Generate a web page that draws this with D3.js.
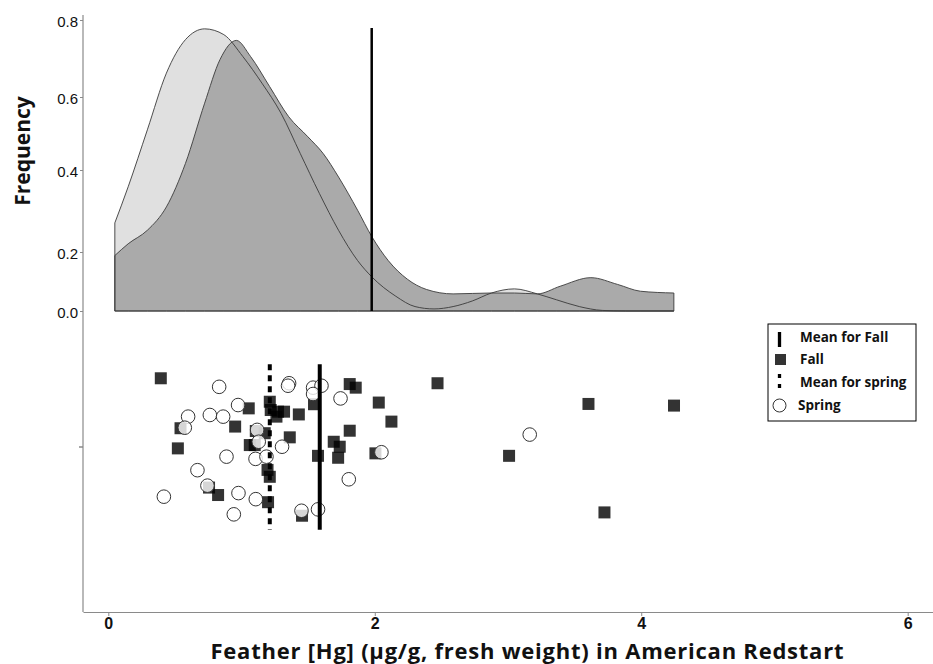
<!DOCTYPE html>
<html>
<head>
<meta charset="utf-8">
<script src="https://cdn.jsdelivr.net/npm/d3@7"></script>
<style>
  body { margin: 0; background: #fff; }
  svg { display: block; }
  .tick text { font-family: "Liberation Sans", Arial, sans-serif; }
</style>
</head>
<body>
<div id="area"></div>
<script>
var width = 933,
    height = 664;

// density curves: [Hg, frequency]
var springDensity = [[0.049,0.271],[0.149,0.359],[0.293,0.510],[0.436,0.662],[0.579,0.749],[0.723,0.777],
  [0.867,0.762],[1.010,0.705],[1.153,0.636],[1.297,0.555],[1.441,0.445],[1.584,0.343],[1.728,0.253],
  [1.871,0.171],[1.977,0.116],[2.158,0.050],[2.302,0.015],[2.445,0.007],[2.588,0.015],[2.732,0.034],
  [2.876,0.061],[3.048,0.075],[3.220,0.058],[3.364,0.038],[3.535,0.015],[3.708,0.002],[3.880,0.0],[4.245,0.0]];

var fallDensity = [[0.049,0.188],[0.149,0.220],[0.293,0.253],[0.436,0.310],[0.579,0.418],[0.723,0.583],
  [0.838,0.697],[0.961,0.747],[1.068,0.705],[1.211,0.627],[1.354,0.546],[1.498,0.491],[1.613,0.445],
  [1.728,0.383],[1.871,0.302],[1.977,0.238],[2.101,0.171],[2.244,0.108],[2.388,0.073],[2.588,0.058],
  [2.876,0.061],[3.048,0.061],[3.220,0.058],[3.392,0.084],[3.622,0.113],[3.823,0.090],[3.995,0.067],[4.245,0.061]];

var densityLine = 1.977;
var freqTicks = [0, 0.2, 0.4, 0.6, 0.8];
var hgTicks = [0, 2, 4, 6];

// individual birds, Hg and vertical jitter
var fallHg = [0.394,1.054,0.952,0.542,0.522,0.824,0.756,1.107,1.062,1.099,1.212,1.219,1.274,1.319,1.262,1.430,
  1.544,1.812,1.857,2.030,2.125,1.812,1.692,1.737,1.725,1.574,2.005,1.362,1.174,1.195,1.212,1.199,1.454,
  2.471,3.604,4.246,3.008,3.724];
var fallJitter = [1.249,1.140,1.074,1.068,0.995,0.826,0.853,1.058,1.007,1.007,1.164,1.134,1.128,1.128,1.110,1.118,
  1.155,1.228,1.215,1.161,1.092,1.059,1.019,1.001,0.961,0.968,0.977,1.035,1.050,0.917,0.892,0.800,0.751,
  1.231,1.156,1.150,0.968,0.763];

var springHg = [0.832,0.974,0.599,0.762,0.862,0.574,0.887,0.669,0.744,0.417,0.977,0.942,1.117,1.129,1.105,1.107,
  1.357,1.349,1.537,1.600,1.537,1.743,1.304,1.187,1.450,1.574,1.805,2.050,3.163];
var springJitter = [1.218,1.152,1.110,1.116,1.110,1.070,0.965,0.916,0.860,0.820,0.833,0.756,1.062,1.019,0.957,0.811,
  1.231,1.222,1.215,1.222,1.192,1.176,1.001,0.965,0.769,0.774,0.883,0.981,1.045];

var fallMean = 1.587,
    springMean = 1.212;

var legendLabels = ['Mean for Fall', 'Fall', 'Mean for spring', 'Spring'];

var axisColor = '#8a8a8a',
    springFill = '#e0e0e0',
    fallFill = '#aaaaaa',
    outline = '#3a3a3a',
    boldFont = '"Open Sans", sans-serif';

var svg = d3.select('#area').append('svg')
    .attr('width', width)
    .attr('height', height);

var x = d3.scaleLinear().domain([-0.19, 6.19]).range([83, 933]);
var yDens = d3.scaleLinear().domain(freqTicks).range([311, 252, 170, 97, 20]);
var yJit = d3.scaleLinear().domain([0.4, 1.6]).range([612.6, 281.4]);

// top panel: density
var area = d3.area()
    .x(function(d) { return x(d[0]); })
    .y0(yDens(0))
    .y1(function(d) { return yDens(d[1]); })
    .curve(d3.curveMonotoneX);

svg.append('path').datum(springDensity).attr('d', area).attr('fill', springFill);
svg.append('path').datum(fallDensity).attr('d', area).attr('fill', fallFill);
[springDensity, fallDensity].forEach(function(dd) {
  svg.append('path').datum(dd).attr('d', area)
      .attr('fill', 'none').attr('stroke', outline).attr('stroke-width', 0.9);
});

svg.append('line')
    .attr('x1', x(densityLine)).attr('x2', x(densityLine))
    .attr('y1', 28).attr('y2', yDens(0))
    .attr('stroke', '#000').attr('stroke-width', 2.5);

// axes
svg.append('line').attr('x1', 83).attr('x2', 83).attr('y1', 15).attr('y2', 612)
    .attr('stroke', axisColor).attr('stroke-width', 1.2);

var yAxis = svg.append('g')
    .attr('transform', 'translate(83,0)')
    .call(d3.axisLeft(yDens).tickValues(freqTicks).tickFormat(d3.format('.1f')).tickSize(3).tickPadding(2));
yAxis.select('.domain').remove();
yAxis.selectAll('.tick line').attr('stroke', axisColor);
yAxis.selectAll('.tick text').attr('font-size', 15).attr('fill', '#111').attr('dy', '0.45em');

var xAxis = svg.append('g')
    .attr('transform', 'translate(0,612)')
    .call(d3.axisBottom(x).tickValues(hgTicks).tickFormat(d3.format('d')).tickSize(4).tickSizeOuter(0).tickPadding(2));
xAxis.select('.domain').attr('stroke', axisColor).attr('stroke-width', 1.2);
xAxis.selectAll('.tick line').attr('stroke', axisColor);
xAxis.selectAll('.tick text')
    .attr('font-family', boldFont)
    .attr('font-weight', 'bold')
    .attr('font-size', 16)
    .attr('fill', '#111');

// small tick for the scatter band
svg.append('line').attr('x1', 79).attr('x2', 83).attr('y1', yJit(1)).attr('y2', yJit(1))
    .attr('stroke', axisColor).attr('stroke-width', 1.5);

svg.append('text')
    .attr('transform', 'translate(30,151) rotate(-90)')
    .attr('text-anchor', 'middle')
    .attr('font-family', boldFont)
    .attr('font-weight', 'bold')
    .attr('font-size', 21)
    .attr('fill', '#111')
    .text('Frequency');

svg.append('text')
    .attr('x', 527).attr('y', 659)
    .attr('text-anchor', 'middle')
    .attr('font-family', boldFont)
    .attr('font-weight', 'bold')
    .attr('font-size', 22)
    .attr('textLength', 633)
    .attr('lengthAdjust', 'spacing')
    .attr('fill', '#111')
    .text('Feather [Hg] (\u03bcg/g, fresh weight) in American Redstart');

// bottom panel: points
var sq = 12;
svg.append('g').selectAll('rect')
    .data(fallHg)
    .enter().append('rect')
    .attr('x', function(d) { return x(d) - sq / 2; })
    .attr('y', function(d, i) { return yJit(fallJitter[i]) - sq / 2; })
    .attr('width', sq).attr('height', sq)
    .attr('fill', '#000').attr('fill-opacity', 0.8);

svg.append('g').selectAll('circle')
    .data(springHg)
    .enter().append('circle')
    .attr('cx', function(d) { return x(d); })
    .attr('cy', function(d, i) { return yJit(springJitter[i]); })
    .attr('r', 6.8)
    .attr('fill', '#fff').attr('fill-opacity', 0.8)
    .attr('stroke', '#333').attr('stroke-width', 1);

svg.append('line')
    .attr('x1', x(springMean)).attr('x2', x(springMean))
    .attr('y1', yJit(1.3)).attr('y2', yJit(0.7))
    .attr('stroke', '#000').attr('stroke-width', 4).attr('stroke-dasharray', '6,5');
svg.append('line')
    .attr('x1', x(fallMean)).attr('x2', x(fallMean))
    .attr('y1', yJit(1.3)).attr('y2', yJit(0.7))
    .attr('stroke', '#000').attr('stroke-width', 4);

// legend
var legend = svg.append('g').attr('transform', 'translate(768,324)');
legend.append('rect').attr('width', 148).attr('height', 97)
    .attr('fill', '#fff').attr('stroke', '#000').attr('stroke-width', 1);

legend.append('line').attr('x1', 11.5).attr('x2', 11.5).attr('y1', 8).attr('y2', 23)
    .attr('stroke', '#000').attr('stroke-width', 3.3);
legend.append('rect').attr('x', 7).attr('y', 30).attr('width', 11).attr('height', 11)
    .attr('fill', '#000').attr('fill-opacity', 0.8);
legend.append('line').attr('x1', 11.5).attr('x2', 11.5).attr('y1', 50).attr('y2', 67)
    .attr('stroke', '#000').attr('stroke-width', 3.3).attr('stroke-dasharray', '4,6');
legend.append('circle').attr('cx', 11.5).attr('cy', 81.5).attr('r', 6.5)
    .attr('fill', '#fff').attr('stroke', '#333');

legend.selectAll('text.lbl')
    .data(legendLabels)
    .enter().append('text')
    .attr('class', 'lbl')
    .attr('x', function(d, i) { return i == 3 ? 30 : 32; })
    .attr('y', function(d, i) { return [13.5, 35.5, 58.5, 81.5][i]; })
    .attr('dy', '0.35em')
    .attr('font-family', boldFont)
    .attr('font-weight', 'bold')
    .attr('font-size', 13.5)
    .attr('fill', '#111')
    .text(function(d) { return d; });
</script>
</body>
</html>
